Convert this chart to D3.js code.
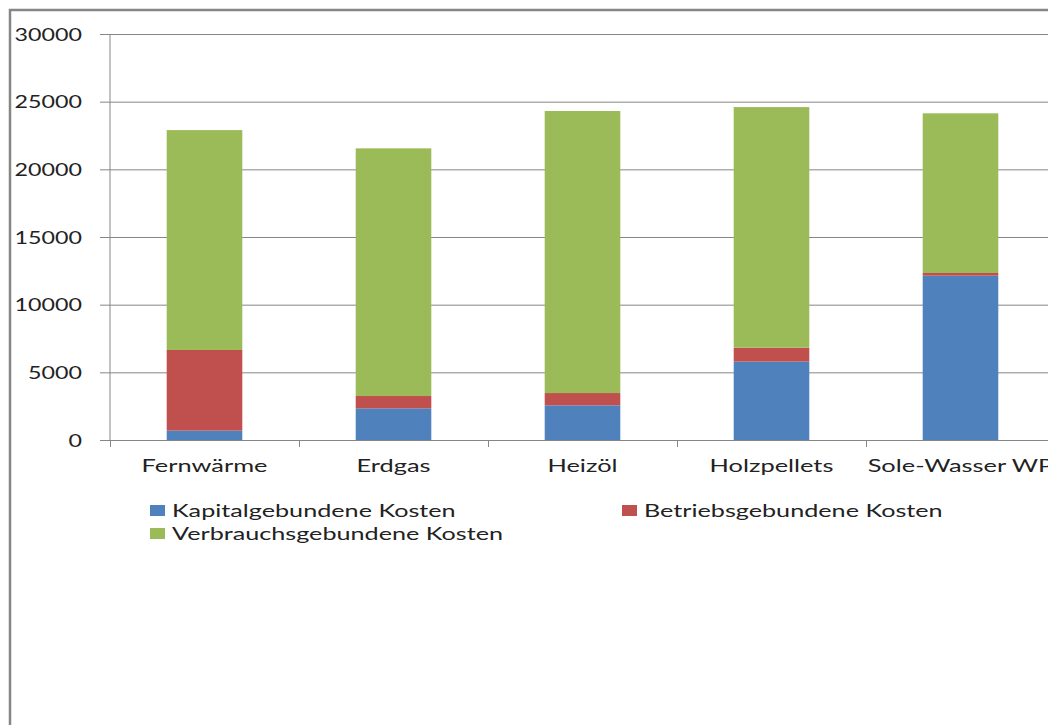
<!DOCTYPE html>
<html>
<head>
<meta charset="utf-8">
<script src="https://cdn.jsdelivr.net/npm/d3@7"></script>
<style>
  body { margin: 0; background: #fff; }
  text { font-family: Lato, "Open Sans", sans-serif; fill: #222; }
</style>
</head>
<body>
<script>
// values (segment heights, stacked)
var categories = ["Fernwärme", "Erdgas", "Heizöl", "Holzpellets", "Sole-Wasser WP"];
var seriesNames = ["Kapitalgebundene Kosten", "Betriebsgebundene Kosten", "Verbrauchsgebundene Kosten"];
var kapital = [690, 2340, 2560, 5790, 12140];
var betrieb = [5960, 910, 910, 1030, 200];
var verbrauch = [16250, 18300, 20840, 17780, 11800];
var yTicks = [0, 5000, 10000, 15000, 20000, 25000, 30000];
var colors = ["#4F81BD", "#C0504D", "#9BBB59"];

var W = 1048, H = 725;
var plot = {left: 110, right: 1055, top: 34, bottom: 440};
var fontSize = 17.5;
var grey = "#868686";

var rows = categories.map(function(c, i) {
    return {cat: c, k: kapital[i], b: betrieb[i], v: verbrauch[i]};
});
var stacked = d3.stack().keys(["k", "b", "v"])(rows);

var svg = d3.select("body").append("svg")
    .attr("width", W)
    .attr("height", H);

// outer chart frame (cut off at right and bottom)
svg.append("rect")
    .attr("x", 10).attr("y", 10)
    .attr("width", W + 20).attr("height", H + 20)
    .attr("fill", "none")
    .attr("stroke", grey)
    .attr("stroke-width", 2.5);

var x = d3.scaleBand()
    .domain(categories)
    .range([plot.left, plot.right])
    .paddingInner(0.6)
    .paddingOuter(0.3);

var xEdge = d3.scaleLinear()
    .domain([0, categories.length])
    .range([plot.left, plot.right]);

var y = d3.scaleLinear()
    .domain([0, 30000])
    .range([plot.bottom, plot.top]);

// stretch a text horizontally around its anchor (the reference is stretched sideways)
function stretch(sel, sx) {
    sel.each(function() {
        var t = d3.select(this);
        var tx = +t.attr("x") || 0;
        var ty = +t.attr("y") || 0;
        t.attr("x", 0).attr("y", 0)
            .attr("transform", "translate(" + tx + "," + ty + ") scale(" + sx + ",1)");
    });
}

// y axis with gridlines
var gy = svg.append("g")
    .attr("transform", "translate(" + plot.left + ",0)")
    .call(d3.axisLeft(y)
        .tickValues(yTicks)
        .tickFormat(d3.format("d"))
        .tickSizeInner(-(plot.right - plot.left))
        .tickSizeOuter(0)
        .tickPadding(28));
gy.select(".domain").remove();
gy.selectAll(".tick line")
    .attr("x1", -10)
    .attr("stroke", grey);
gy.selectAll(".tick text")
    .attr("font-size", fontSize)
    .attr("dy", "0.36em")
    .call(stretch, 1.33);

// vertical axis line
svg.append("line")
    .attr("x1", plot.left).attr("x2", plot.left)
    .attr("y1", plot.top).attr("y2", plot.bottom)
    .attr("stroke", grey);

// category tick marks between the groups
var gEdge = svg.append("g")
    .attr("transform", "translate(0," + plot.bottom + ")")
    .call(d3.axisBottom(xEdge)
        .tickValues(d3.range(categories.length + 1))
        .tickFormat("")
        .tickSizeInner(7)
        .tickSizeOuter(0));
gEdge.select(".domain").attr("stroke", grey);
gEdge.selectAll(".tick line").attr("stroke", grey);

// category labels
var gx = svg.append("g")
    .attr("transform", "translate(0," + plot.bottom + ")")
    .call(d3.axisBottom(x).tickSize(0).tickPadding(26));
gx.select(".domain").remove();
gx.selectAll(".tick text")
    .attr("font-size", fontSize + 0.5)
    .attr("dy", "0.36em")
    .call(stretch, 1.41);

// stacked bars
svg.append("g")
    .selectAll("g")
    .data(stacked)
    .enter().append("g")
    .attr("fill", function(d, i) { return colors[i]; })
    .selectAll("rect")
    .data(function(d) { return d; })
    .enter().append("rect")
    .attr("x", function(d) { return x(d.data.cat); })
    .attr("width", x.bandwidth())
    .attr("y", function(d) { return y(d[1]); })
    .attr("height", function(d) { return y(d[0]) - y(d[1]); });

// legend: two items in the first row, one in the second
var legendPos = [[150, 505], [622, 505], [150, 528]];
var legend = svg.append("g")
    .selectAll("g")
    .data(seriesNames)
    .enter().append("g")
    .attr("transform", function(d, i) { return "translate(" + legendPos[i][0] + "," + legendPos[i][1] + ")"; });

legend.append("rect")
    .attr("width", 15)
    .attr("height", 11)
    .attr("fill", function(d, i) { return colors[i]; });

legend.append("text")
    .attr("x", 22)
    .attr("y", 5.5)
    .attr("dy", "0.36em")
    .attr("font-size", fontSize)
    .text(function(d) { return d; })
    .call(stretch, 1.44);
</script>
</body>
</html>
